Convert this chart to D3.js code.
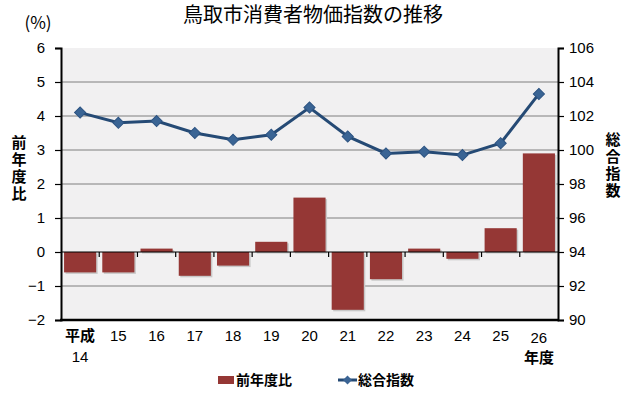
<!DOCTYPE html>
<html>
<head>
<meta charset="utf-8">
<script src="https://cdn.jsdelivr.net/npm/d3@7"></script>
<style>
	body { margin: 0; background: #fff; }
	text { font-family: "Liberation Sans", Arial, sans-serif; fill: #000; }
	.jp { font-family: "Noto Sans CJK JP", sans-serif; }
	.vert { writing-mode: vertical-rl; letter-spacing: 2px; }
</style>
</head>
<body>
<script>
const YEARS = ['14','15','16','17','18','19','20','21','22','23','24','25','26'];
const YEAR_LABELS = ['平成','15','16','17','18','19','20','21','22','23','24','25','26'];
const CHANGE = [-0.6, -0.6, 0.1, -0.7, -0.4, 0.3, 1.6, -1.7, -0.8, 0.1, -0.2, 0.7, 2.9];
const INDEX = [102.2, 101.6, 101.7, 101.0, 100.6, 100.9, 102.5, 100.8, 99.8, 99.9, 99.7, 100.4, 103.3];
const LEFT_TICKS = [-2, -1, 0, 1, 2, 3, 4, 5, 6];
const RIGHT_TICKS = [90, 92, 94, 96, 98, 100, 102, 104, 106];

let svg = d3.select('body').append('svg')
	.attr('width', 630)
	.attr('height', 400);

let plotLeft = 61, plotRight = 558, plotTop = 48, plotBottom = 320;

let x = d3.scaleBand()
	.domain(YEARS)
	.range([plotLeft, plotRight])
	.paddingInner(0.16)
	.paddingOuter(0.08);
let xEdge = d3.scaleBand().domain(YEARS).range([plotLeft, plotRight]);
let yL = d3.scaleLinear().domain([-2, 6]).range([plotBottom, plotTop]);
let yR = d3.scaleLinear().domain([90, 106]).range([plotBottom, plotTop]);

// background
svg.append('rect')
	.attr('x', plotLeft).attr('y', plotTop)
	.attr('width', plotRight - plotLeft).attr('height', plotBottom - plotTop)
	.attr('fill', '#f1f0f1');

// grid
svg.selectAll('.grid')
	.data(LEFT_TICKS.filter(t => t !== -2 && t !== 6 && t !== 0))
	.enter().append('line')
	.attr('x1', plotLeft).attr('x2', plotRight)
	.attr('y1', d => yL(d)).attr('y2', d => yL(d))
	.attr('stroke', '#7f7f7f').attr('stroke-width', 1);

// bars
svg.selectAll('.shadow')
	.data(CHANGE)
	.enter().append('rect')
	.attr('x', (d, i) => x(YEARS[i]) + 1.5)
	.attr('y', d => Math.min(yL(d), yL(0)) + 1.5)
	.attr('width', x.bandwidth())
	.attr('height', d => Math.abs(yL(d) - yL(0)))
	.attr('fill', '#c8c8c8');
svg.selectAll('.bar')
	.data(CHANGE)
	.enter().append('rect')
	.attr('x', (d, i) => x(YEARS[i]))
	.attr('y', d => Math.min(yL(d), yL(0)))
	.attr('width', x.bandwidth())
	.attr('height', d => Math.abs(yL(d) - yL(0)))
	.attr('fill', '#953735');

// zero axis with ticks
svg.append('line')
	.attr('x1', plotLeft).attr('x2', plotRight)
	.attr('y1', yL(0)).attr('y2', yL(0))
	.attr('stroke', '#000').attr('stroke-width', 1.2);
svg.selectAll('.ztick')
	.data(YEARS.slice(1))
	.enter().append('line')
	.attr('x1', d => xEdge(d)).attr('x2', d => xEdge(d))
	.attr('y1', yL(0)).attr('y2', yL(0) + 5)
	.attr('stroke', '#000').attr('stroke-width', 1.2);

// axes
let leftAxis = svg.append('g')
	.attr('transform', `translate(${plotLeft},0)`)
	.call(d3.axisLeft(yL).tickValues(LEFT_TICKS).tickSize(6).tickPadding(10)
		.tickFormat(d => d < 0 ? '\u2212' + Math.abs(d) : d));
let rightAxis = svg.append('g')
	.attr('transform', `translate(${plotRight},0)`)
	.call(d3.axisRight(yR).tickValues(RIGHT_TICKS).tickSize(6).tickPadding(5));
[leftAxis, rightAxis].forEach(a => {
	a.select('.domain').attr('stroke', '#000').attr('stroke-width', 2);
	a.selectAll('.tick line').attr('stroke', '#000').attr('stroke-width', 1.2);
	a.selectAll('.tick text').attr('font-size', 15).attr('fill', '#000')
		.style('font-family', '"Liberation Sans", Arial, sans-serif');
});
svg.append('line')
	.attr('x1', plotLeft - 1).attr('x2', plotRight + 1)
	.attr('y1', plotBottom).attr('y2', plotBottom)
	.attr('stroke', '#000').attr('stroke-width', 2.5);

// line
let line = d3.line()
	.x((d, i) => x(YEARS[i]) + x.bandwidth() / 2)
	.y(d => yR(d));
svg.append('path')
	.datum(INDEX)
	.attr('d', line)
	.attr('fill', 'none')
	.attr('stroke', '#254a75')
	.attr('stroke-width', 3);
svg.selectAll('.marker')
	.data(INDEX)
	.enter().append('path')
	.attr('d', d3.symbol(d3.symbolSquare, 62))
	.attr('transform', (d, i) => `translate(${x(YEARS[i]) + x.bandwidth() / 2},${yR(d)}) rotate(45)`)
	.attr('fill', '#3a6494')
	.attr('stroke', '#2c5382')
	.attr('stroke-width', 1);

// x labels
svg.selectAll('.xlabel')
	.data(YEAR_LABELS)
	.enter().append('text')
	.attr('class', (d, i) => i === 0 ? 'jp' : '')
	.attr('x', (d, i) => x(YEARS[i]) + x.bandwidth() / 2)
	.attr('y', (d, i) => i === 12 ? 343 : 341)
	.attr('text-anchor', 'middle')
	.attr('font-size', 15)
	.attr('font-weight', (d, i) => i === 0 ? 'bold' : 'normal')
	.text(d => d);
svg.append('text')
	.attr('x', x('14') + x.bandwidth() / 2)
	.attr('y', 362)
	.attr('text-anchor', 'middle')
	.attr('font-size', 15)
	.text('14');
svg.append('text')
	.attr('class', 'jp')
	.attr('x', x('26') + x.bandwidth() / 2)
	.attr('y', 363)
	.attr('text-anchor', 'middle')
	.attr('font-size', 15)
	.attr('font-weight', 'bold')
	.text('年度');

// title and axis titles
svg.append('text')
	.attr('class', 'jp')
	.attr('x', 313).attr('y', 22)
	.attr('text-anchor', 'middle')
	.attr('font-size', 20)
	.text('鳥取市消費者物価指数の推移');
svg.append('text')
	.attr('class', 'jp')
	.attr('x', 38).attr('y', 29)
	.attr('text-anchor', 'middle')
	.attr('font-size', 17)
	.text('(%)');
svg.append('text')
	.attr('class', 'jp vert')
	.attr('x', 19).attr('y', 169)
	.attr('text-anchor', 'middle')
	.attr('font-size', 15).attr('font-weight', 'bold')
	.text('前年度比');
svg.append('text')
	.attr('class', 'jp vert')
	.attr('x', 613).attr('y', 166)
	.attr('text-anchor', 'middle')
	.attr('font-size', 15).attr('font-weight', 'bold')
	.text('総合指数');

// legend
let legend = svg.append('g');
legend.append('rect')
	.attr('x', 218).attr('y', 376).attr('width', 16).attr('height', 8)
	.attr('fill', '#953735');
legend.append('text')
	.attr('class', 'jp')
	.attr('x', 236).attr('y', 385)
	.attr('font-size', 14).attr('font-weight', 'bold')
	.text('前年度比');
legend.append('line')
	.attr('x1', 338).attr('x2', 357).attr('y1', 380).attr('y2', 380)
	.attr('stroke', '#254a75').attr('stroke-width', 3);
legend.append('path')
	.attr('d', d3.symbol(d3.symbolSquare, 40))
	.attr('transform', 'translate(347.5,380) rotate(45)')
	.attr('fill', '#3a6494');
legend.append('text')
	.attr('class', 'jp')
	.attr('x', 358).attr('y', 385)
	.attr('font-size', 14).attr('font-weight', 'bold')
	.text('総合指数');
</script>
</body>
</html>
